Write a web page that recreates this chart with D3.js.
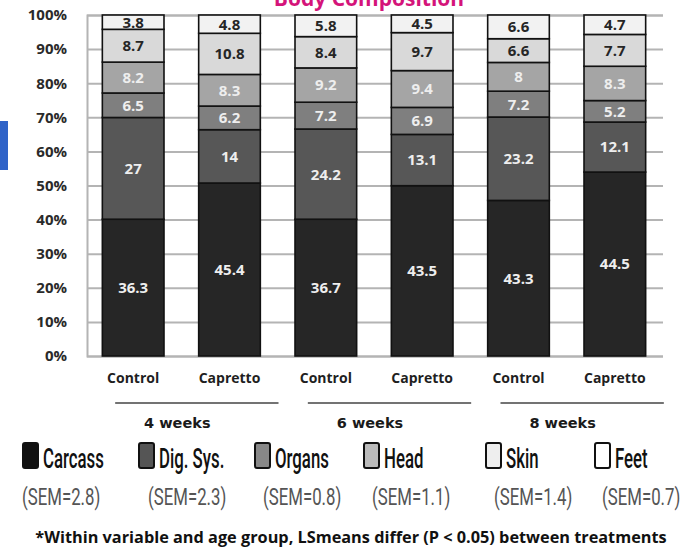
<!doctype html>
<html>
<head>
<script src="https://d3js.org/d3.v7.min.js"></script>
<style>
  body { margin: 0; background: #fff; }
  svg { display: block; font-family: "Open Sans", sans-serif; }
</style>
</head>
<body>
<svg id="chart" width="682" height="547"></svg>
<script>
// data
var treatments = ["Control", "Capretto", "Control", "Capretto", "Control", "Capretto"]
var ages = ["4 weeks", "6 weeks", "8 weeks"]
var parts = ["Carcass", "Dig. Sys.", "Organs", "Head", "Skin", "Feet"]
var sem = ["(SEM=2.8)", "(SEM=2.3)", "(SEM=0.8)", "(SEM=1.1)", "(SEM=1.4)", "(SEM=0.7)"]
var carcass = [36.3, 45.4, 36.7, 43.5, 43.3, 44.5]
var digSys  = [27, 14, 24.2, 13.1, 23.2, 12.1]
var organs  = [6.5, 6.2, 7.2, 6.9, 7.2, 5.2]
var head    = [8.2, 8.3, 9.2, 9.4, 8, 8.3]
var skin    = [8.7, 10.8, 8.4, 9.7, 6.6, 7.7]
var feet    = [3.8, 4.8, 5.8, 4.5, 6.6, 4.7]
var yTicks = [0, 0.1, 0.2, 0.3, 0.4, 0.5, 0.6, 0.7, 0.8, 0.9, 1]

// styles
var fills = ["#262626", "#575757", "#7f7f7f", "#a5a5a5", "#d9d9d9", "#f2f2f2"]
var swatchFills = ["#111", "#555", "#888", "#bbb", "#eee", "#fff"]
var labelColors = ["#eee", "#eee", "#eee", "#eee", "#262626", "#262626"]
var legendX = [23, 139, 255, 364, 486, 595]
var semX = [22, 148, 263, 372, 494, 602]

var series = [carcass, digSys, organs, head, skin, feet]
var rows = treatments.map(function (t, i) {
    var r = { idx: i }
    parts.forEach(function (p, j) { r[p] = series[j][i] })
    return r
})
var stacked = d3.stack().keys(parts).offset(d3.stackOffsetExpand)(rows)

var svg = d3.select("#chart")
var plotLeft = 87, plotRight = 663, plotTop = 15, plotBottom = 356

var x = d3.scaleBand().domain(d3.range(treatments.length)).range([85, plotRight]).paddingInner(0.36).paddingOuter(0.18)
var y = d3.scaleLinear().domain([0, 1]).range([plotBottom, plotTop])

// title (cut off at top in the original)
svg.append("text").attr("x", 369).attr("y", 6).attr("text-anchor", "middle")
    .attr("font-size", 21).attr("font-weight", "bold").attr("fill", "#d4147a")
    .text("Body Composition")

// blue tab on the left edge
svg.append("rect").attr("x", 0).attr("y", 121).attr("width", 8).attr("height", 49).attr("fill", "#2f63c8")

// y axis with grid
var yAxis = svg.append("g").attr("transform", "translate(" + plotLeft + ",0)")
    .call(d3.axisLeft(y).tickValues(yTicks).tickFormat(d3.format(".0%")).tickSize(-(plotRight - plotLeft)).tickPadding(20))
yAxis.select(".domain").attr("stroke", "#b4b4b4").attr("stroke-width", 2)
yAxis.selectAll(".tick line").attr("stroke", "#b4b4b4").attr("stroke-width", 2)
yAxis.selectAll(".tick text").attr("font-size", 15).attr("font-weight", "bold")
    .attr("fill", "#2a2a2a").attr("font-family", "Open Sans, sans-serif")

// stacked bars
var layer = svg.append("g").selectAll("g").data(stacked).enter().append("g")
    .attr("fill", function (d, i) { return fills[i] })
layer.selectAll("rect").data(function (d) { return d }).enter().append("rect")
    .attr("x", function (d) { return x(d.data.idx) })
    .attr("width", x.bandwidth())
    .attr("y", function (d) { return y(d[1]) })
    .attr("height", function (d) { return y(d[0]) - y(d[1]) })
    .attr("stroke", "#111").attr("stroke-width", 1.6)

layer.selectAll("text").data(function (d, i) { return d.map(function (v) { return { v: v, s: i } }) })
    .enter().append("text")
    .attr("x", function (d) { return x(d.v.data.idx) + x.bandwidth() / 2 })
    .attr("y", function (d) { return (y(d.v[0]) + y(d.v[1])) / 2 })
    .attr("dy", "0.36em").attr("text-anchor", "middle")
    .attr("font-size", 15).attr("font-weight", "bold")
    .attr("fill", function (d) { return labelColors[d.s] })
    .text(function (d) { return series[d.s][d.v.data.idx] })

// x labels
svg.append("g").selectAll("text").data(treatments).enter().append("text")
    .attr("x", function (d, i) { return x(i) + x.bandwidth() / 2 })
    .attr("y", 383).attr("text-anchor", "middle")
    .attr("font-size", 14).attr("font-weight", "bold").attr("fill", "#1f1f1f")
    .text(function (d) { return d })

// age groups
var grp = svg.append("g").selectAll("g").data(ages).enter().append("g")
grp.append("line")
    .attr("x1", function (d, i) { return x(i * 2) + x.bandwidth() / 2 - 18 })
    .attr("x2", function (d, i) { return x(i * 2 + 1) + x.bandwidth() / 2 + 49 })
    .attr("y1", 403).attr("y2", 403).attr("stroke", "#444").attr("stroke-width", 1.5)
grp.append("text")
    .attr("x", function (d, i) { return (x(i * 2) + x(i * 2 + 1)) / 2 + x.bandwidth() / 2 - 4 })
    .attr("y", 428).attr("text-anchor", "middle")
    .attr("font-family", "DejaVu Sans, sans-serif").attr("font-size", 14.5).attr("font-weight", "bold")
    .attr("fill", "#1a1a1a")
    .text(function (d) { return d })

// legend
var leg = svg.append("g").selectAll("g").data(parts).enter().append("g")
leg.append("rect")
    .attr("x", function (d, i) { return legendX[i] }).attr("y", 443)
    .attr("width", 15).attr("height", 25).attr("rx", 2)
    .attr("fill", function (d, i) { return swatchFills[i] })
    .attr("stroke", "#111").attr("stroke-width", 2)
leg.append("text")
    .attr("transform", function (d, i) { return "translate(" + (legendX[i] + 20) + ",468) scale(0.6,1)" })
    .attr("font-family", "Roboto, sans-serif").attr("font-size", 28).attr("font-weight", 500).attr("fill", "#111")
    .text(function (d) { return d })
leg.append("text")
    .attr("transform", function (d, i) { return "translate(" + semX[i] + ",505) scale(0.7,1)" })
    .attr("font-family", "Roboto, sans-serif").attr("font-size", 24).attr("fill", "#555")
    .text(function (d, i) { return sem[i] })

// footnote
svg.append("text").attr("x", 351).attr("y", 543).attr("text-anchor", "middle")
    .attr("font-size", 16.3).attr("font-weight", "bold").attr("fill", "#111")
    .text("*Within variable and age group, LSmeans differ (P < 0.05) between treatments")
</script>
</body>
</html>
